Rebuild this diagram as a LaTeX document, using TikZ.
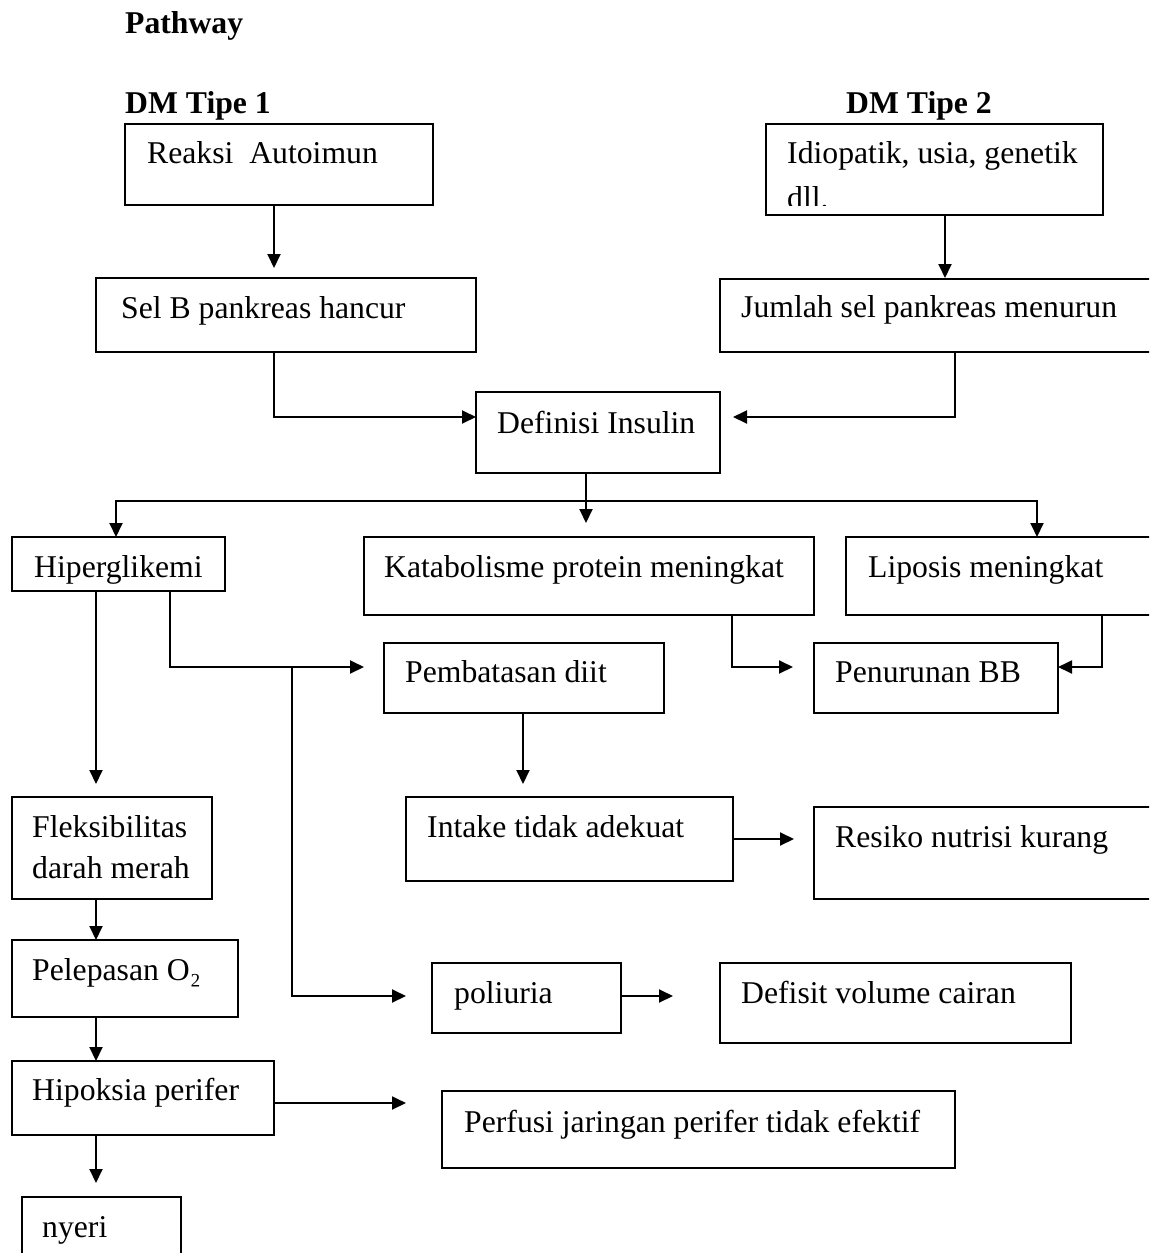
\documentclass[tikz,border=0pt]{standalone}
\usepackage{fontspec}
\setmainfont{Liberation Serif}
\usetikzlibrary{arrows.meta}
\begin{document}
\begin{tikzpicture}[x=1pt,y=-1pt,
  box/.style={draw, line width=1.7pt, inner sep=0pt, outer sep=0pt, anchor=north west},
  txt/.style={anchor=base west, inner sep=0pt, font=\fontsize{31.7}{38}\selectfont},
  hd/.style={anchor=base west, inner sep=0pt, font=\fontsize{31.7}{38}\selectfont\bfseries},
  conn/.style={line width=1.9pt},
  arr/.style={conn, -{Triangle[length=14pt,width=13pt]}}]
\clip (0,0) rectangle (1149,1253);
\fill[white] (0,0) rectangle (1149,1253);

% headings
\node[hd] (tpath) at (125,33) {Pathway};
\node[hd] (tdm1) at (125,113) {DM Tipe 1};
\node[hd] (tdm2) at (846,113) {DM Tipe 2};

% boxes
\node[box, minimum width=308pt, minimum height=81pt] (reaksi) at (125,124) {};
\node[box, minimum width=337pt, minimum height=91pt] (idio) at (766,124) {};
\node[box, minimum width=380pt, minimum height=74pt] (selb) at (96,278) {};
\node[box, minimum width=450pt, minimum height=73pt] (jumlah) at (720,279) {};
\node[box, minimum width=244pt, minimum height=81pt] (defin) at (476,392) {};
\node[box, minimum width=213pt, minimum height=54pt] (hiper) at (12,537) {};
\node[box, minimum width=450pt, minimum height=78pt] (katab) at (364,537) {};
\node[box, minimum width=320pt, minimum height=78pt] (lipo) at (846,537) {};
\node[box, minimum width=280pt, minimum height=70pt] (pemb) at (384,643) {};
\node[box, minimum width=244pt, minimum height=70pt] (penur) at (814,643) {};
\node[box, minimum width=200pt, minimum height=102pt] (fleks) at (12,797) {};
\node[box, minimum width=327pt, minimum height=84pt] (intake) at (406,797) {};
\node[box, minimum width=350pt, minimum height=92pt] (resiko) at (814,807) {};
\node[box, minimum width=226pt, minimum height=77pt] (pelep) at (12,940) {};
\node[box, minimum width=189pt, minimum height=70pt] (poli) at (432,963) {};
\node[box, minimum width=351pt, minimum height=80pt] (defisit) at (720,963) {};
\node[box, minimum width=262pt, minimum height=74pt] (hipok) at (12,1061) {};
\node[box, minimum width=513pt, minimum height=77pt] (perfusi) at (442,1091) {};
\node[box, minimum width=159pt, minimum height=80pt] (nyeri) at (22,1197) {};

% texts
\node[txt] (treaksi) at (147,163) {Reaksi\ \ Autoimun};
\node[txt] (tidio) at (787,163) {Idiopatik, usia, genetik};
\begin{scope}
\clip (770,150) rectangle (1100,205);
\node[txt] (tdll) at (787,208) {dll.};
\end{scope}
\node[txt] (tselb) at (121,318) {Sel B pankreas hancur};
\node[txt] (tjumlah) at (741,317) {Jumlah sel pankreas menurun};
\node[txt] (tdefin) at (497,433) {Definisi Insulin};
\node[txt] (thiper) at (34,577) {Hiperglikemi};
\node[txt] (tkatab) at (384,577) {Katabolisme protein meningkat};
\node[txt] (tlipo) at (868,577) {Liposis meningkat};
\node[txt] (tpemb) at (405,682) {Pembatasan diit};
\node[txt] (tpenur) at (835,682) {Penurunan BB};
\node[txt] (tfleks1) at (32,837) {Fleksibilitas};
\node[txt] (tfleks2) at (32,878) {darah merah};
\node[txt] (tintake) at (427,837) {Intake tidak adekuat};
\node[txt] (tresiko) at (835,847) {Resiko nutrisi kurang};
\node[txt] (tpelep) at (32,980) {Pelepasan O₂};
\node[txt] (tpoli) at (454,1003) {poliuria};
\node[txt] (tdefisit) at (741,1003) {Defisit volume cairan};
\node[txt] (thipok) at (32,1100) {Hipoksia perifer};
\node[txt] (tperfusi) at (464,1132) {Perfusi jaringan perifer tidak efektif};
\node[txt] (tnyeri) at (42,1237) {nyeri};

% helper coordinates
\coordinate (vA) at (274,0);
\coordinate (vB) at (945,0);
\coordinate (m1) at (274,417);
\coordinate (m2) at (955,417);
\coordinate (br) at (586,501);
\coordinate (bl) at (116,501);
\coordinate (bR) at (1037,501);
\coordinate (k1) at (732,667);
\coordinate (k2) at (1102,667);
\coordinate (vL) at (96,0);
\coordinate (h1) at (170,667);
\coordinate (h2) at (292,667);
\coordinate (h3) at (292,996);
\coordinate (vP) at (523,0);
\coordinate (yI) at (0,839);
\coordinate (yP) at (0,996);
\coordinate (yH) at (0,1103);

% connectors
\draw[arr, shorten >=10pt] (reaksi.south -| vA) -- (selb.north -| vA);
\draw[arr, shorten >=1pt] (idio.south -| vB) -- (jumlah.north -| vB);
\draw[arr] (selb.south -| m1) |- (defin.west |- m1);
\draw[arr, shorten >=13pt] (jumlah.south -| m2) |- (defin.east |- m2);
\draw[arr, shorten >=14pt] (defin.south -| br) -- (katab.north -| br);
\draw[arr] (br) -| (hiper.north -| bl);
\draw[arr] (br) -| (lipo.north -| bR);
\draw[arr, shorten >=21pt] (katab.south -| k1) |- (penur.west |- k1);
\draw[arr] (lipo.south -| k2) |- (penur.east |- k2);
\draw[arr, shorten >=13pt] (hiper.south -| vL) -- (fleks.north -| vL);
\draw[arr, shorten >=20pt] (hiper.south -| h1) |- (pemb.west |- h1);
\draw[arr, shorten >=26pt] (h2) |- (poli.west |- h3);
\draw[arr, shorten >=13pt] (pemb.south -| vP) -- (intake.north -| vP);
\draw[arr, shorten >=20pt] (intake.east |- yI) -- (resiko.west |- yI);
\draw[arr, shorten >=47pt] (poli.east |- yP) -- (defisit.west |- yP);
\draw[arr] (fleks.south -| vL) -- (pelep.north -| vL);
\draw[arr] (pelep.south -| vL) -- (hipok.north -| vL);
\draw[arr, shorten >=14pt] (hipok.south -| vL) -- (nyeri.north -| vL);
\draw[arr, shorten >=36pt] (hipok.east |- yH) -- (perfusi.west |- yH);
\end{tikzpicture}
\end{document}
